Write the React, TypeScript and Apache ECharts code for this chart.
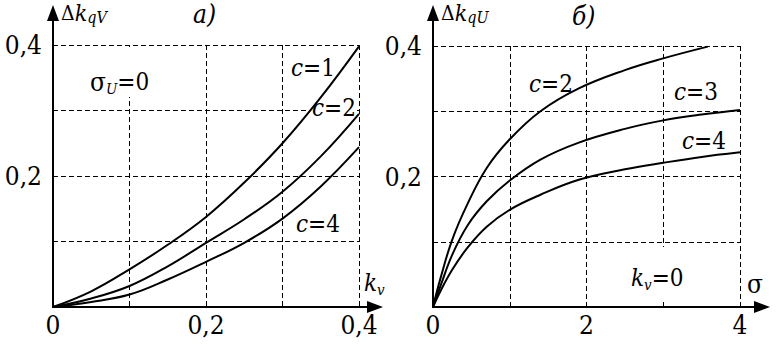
import React, { useEffect, useRef } from "react";
import * as echarts from "echarts";

// ---- data ----
const kv = [0, 0.05, 0.1, 0.15, 0.2, 0.25, 0.3, 0.35, 0.4];
const dkqV_c1 = [0, 0.024, 0.0575, 0.095, 0.1375, 0.19, 0.25, 0.32, 0.398];
const dkqV_c2 = [0, 0.013, 0.032, 0.062, 0.098, 0.134, 0.176, 0.23, 0.295];
const dkqV_c4 = [0, 0.0077, 0.019, 0.042, 0.069, 0.098, 0.135, 0.184, 0.244];

const sigma = [0, 0.1, 0.25, 0.45, 0.7, 1, 1.4, 1.9, 2.5, 3, 3.5, 4];
const sigmaC2 = [0, 0.1, 0.25, 0.45, 0.7, 1, 1.4, 1.9, 2.5, 3, 3.58];
const dkqU_c2 = [0, 0.045, 0.103, 0.158, 0.213, 0.257, 0.3, 0.335, 0.363, 0.381, 0.399];
const dkqU_c3 = [0, 0.033, 0.08, 0.125, 0.162, 0.194, 0.226, 0.252, 0.273, 0.286, 0.295, 0.302];
const dkqU_c4 = [0, 0.025, 0.057, 0.091, 0.123, 0.149, 0.172, 0.195, 0.211, 0.221, 0.23, 0.237];

const leftXTickLabels = [0, 0.2, 0.4];
const leftYTickLabels = [0.2, 0.4];
const rightXTickLabels = [0, 2, 4];
const rightYTickLabels = [0.2, 0.4];

const FONT = "DejaVu Serif Condensed, DejaVu Serif";
const fmt = (v: number) => String(Math.round(v * 10) / 10).replace(".", ",");
const inList = (list: number[], v: number) => list.some((t) => Math.abs(t - v) < 1e-6);

const pairs = (xs: number[], ys: number[]) => xs.map((x, i) => [x, ys[i]]);

const dashed = { show: true, lineStyle: { color: "#000", width: 1, type: [5, 3] as any } };

function dataAxis(gridIndex: number, max: number, interval: number, labels: number[], isY: boolean) {
  return {
    type: "value",
    gridIndex,
    min: 0,
    max,
    interval,
    axisLine: { show: false },
    axisTick: { show: false },
    splitLine: dashed,
    axisLabel: {
      show: true,
      margin: isY ? 11 : 5,
      color: "#000",
      fontFamily: FONT,
      fontSize: 26,
      formatter: (v: number) => (inList(labels, v) ? fmt(v) : ""),
    },
  };
}

function overlayAxis(gridIndex: number) {
  return {
    type: "value",
    gridIndex,
    min: 0,
    max: 1,
    axisLine: {
      show: true,
      symbol: ["none", "triangle"],
      symbolSize: [12, 16],
      lineStyle: { color: "#000", width: 2 },
    },
    axisTick: { show: false },
    axisLabel: { show: false },
    splitLine: { show: false },
  };
}

const curve = (name: string, data: number[][], xi: number, yi: number) => ({
  name,
  type: "line",
  xAxisIndex: xi,
  yAxisIndex: yi,
  data,
  smooth: 0.4,
  symbol: "none",
  lineStyle: { color: "#000", width: 2 },
  z: 5,
});

const richStyles = {
  n: { fontFamily: FONT, fontSize: 24, color: "#000", lineHeight: 28, verticalAlign: "middle" },
  i: { fontFamily: FONT, fontSize: 24, fontStyle: "italic", color: "#000", lineHeight: 28, verticalAlign: "middle" },
  g: { fontFamily: FONT, fontSize: 26, color: "#000", lineHeight: 28, verticalAlign: "middle" },
  s: { fontFamily: FONT, fontSize: 15, fontStyle: "italic", color: "#000", lineHeight: 14, verticalAlign: "bottom" },
  tn: { fontFamily: FONT, fontSize: 21, color: "#000", lineHeight: 25, verticalAlign: "middle" },
  ti: { fontFamily: FONT, fontSize: 23, fontStyle: "italic", color: "#000", lineHeight: 25, verticalAlign: "middle" },
  ts: { fontFamily: FONT, fontSize: 16, fontStyle: "italic", color: "#000", lineHeight: 14, verticalAlign: "bottom" },
  h: { fontFamily: FONT, fontSize: 26, fontStyle: "italic", color: "#000", lineHeight: 28, verticalAlign: "middle" },
};

const txt = (x: number, y: number, text: string) => ({
  type: "text",
  x,
  y,
  z: 10,
  style: { text, rich: richStyles, fontFamily: FONT, textVerticalAlign: "middle", verticalAlign: "middle" },
});

const whiteRect = (x: number, y: number, w: number, h: number) => ({
  type: "rect",
  z: 1,
  shape: { x, y, width: w, height: h },
  style: { fill: "#fff" },
});

export default function App() {
  const ref = useRef<HTMLDivElement>(null);
  useEffect(() => {
    document.body.style.margin = "0";
    const chart = echarts.init(ref.current!, undefined, { renderer: "svg" });
    chart.setOption({
      animation: false,
      backgroundColor: "#fff",
      textStyle: { fontFamily: FONT },
      grid: [
        { left: 53, top: 45, width: 306, height: 262 },
        { left: 433, top: 46, width: 307, height: 261 },
        { left: 53, top: 13, width: 322, height: 294 },
        { left: 433, top: 13, width: 329, height: 294 },
      ],
      xAxis: [
        dataAxis(0, 0.4, 0.1, leftXTickLabels, false),
        dataAxis(1, 4, 1, rightXTickLabels, false),
        overlayAxis(2),
        overlayAxis(3),
      ],
      yAxis: [
        dataAxis(0, 0.4, 0.1, leftYTickLabels, true),
        dataAxis(1, 0.4, 0.1, rightYTickLabels, true),
        overlayAxis(2),
        overlayAxis(3),
      ],
      series: [
        curve("c=1", pairs(kv, dkqV_c1), 0, 0),
        curve("c=2", pairs(kv, dkqV_c2), 0, 0),
        curve("c=4", pairs(kv, dkqV_c4), 0, 0),
        curve("c=2 σ", pairs(sigmaC2, dkqU_c2), 1, 1),
        curve("c=3 σ", pairs(sigma, dkqU_c3), 1, 1),
        curve("c=4 σ", pairs(sigma, dkqU_c4), 1, 1),
      ],
      graphic: [
        whiteRect(124, 47, 12, 50),
        whiteRect(310, 109, 47, 9),
        whiteRect(658, 247, 12, 53),
        // left panel
        txt(61, 13, "{tn|Δ}{ti|k}{ts|qV}"),
        txt(193, 14, "{h|a)}"),
        txt(90, 82, "{g|σ}{s|U}{n|=0}"),
        txt(291, 68, "{i|c}{n|=1}"),
        txt(312, 108, "{i|c}{n|=2}"),
        txt(296, 224, "{i|c}{n|=4}"),
        txt(364, 283, "{i|k}{s|v}"),
        // right panel
        txt(441, 13, "{tn|Δ}{ti|k}{ts|qU}"),
        txt(572, 16, "{h|б)}"),
        txt(529, 84, "{i|c}{n|=2}"),
        txt(674, 92, "{i|c}{n|=3}"),
        txt(682, 141, "{i|c}{n|=4}"),
        txt(631, 278, "{i|k}{s|v}{n|=0}"),
        txt(747, 284, "{g|σ}"),
      ],
    });
    return () => chart.dispose();
  }, []);
  return (
    <div
      ref={ref}
      style={{ position: "absolute", left: 0, top: 0, width: 780, height: 348 }}
    />
  );
}
